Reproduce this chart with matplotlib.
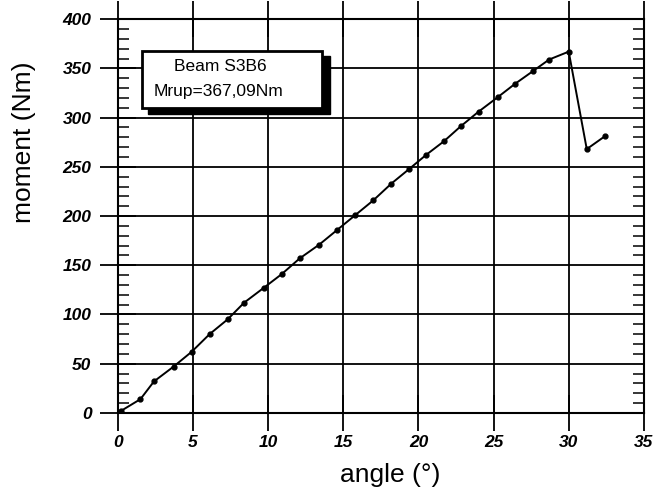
import numpy as np
import matplotlib.pyplot as plt
from matplotlib.patches import Rectangle
from matplotlib.ticker import MultipleLocator

# angle (deg) and moment (Nm)
angle = [0.2, 1.5, 2.4, 3.7, 4.9, 6.1, 7.3, 8.4, 9.7, 10.9, 12.1, 13.4, 14.6,
         15.8, 17.0, 18.2, 19.4, 20.5, 21.7, 22.8, 24.0, 25.3, 26.4, 27.6,
         28.7, 30.0, 31.2, 32.4]
moment = [2, 14, 32, 47, 62, 80, 95, 112, 127, 141, 157, 171, 186, 201, 216,
          233, 248, 262, 276, 291, 306, 321, 334, 347, 359, 367, 268, 281]

beam = "Beam S3B6"
mrup = "Mrup=367,09Nm"

plt.rcParams['font.family'] = ['Liberation Sans', 'DejaVu Sans']

fig = plt.figure(figsize=(6.55, 4.91), dpi=100)
ax = fig.add_axes([0.180, 0.159, 0.803, 0.802])

ax.plot(angle, moment, color='black', lw=1.4, zorder=3)
ax.plot(angle, moment, 'o', color='black', ms=3.5, zorder=4)

ax.set_xlim(0, 35)
ax.set_ylim(0, 400)
ax.xaxis.set_major_locator(MultipleLocator(5))
ax.yaxis.set_major_locator(MultipleLocator(50))
ax.yaxis.set_minor_locator(MultipleLocator(10))

ax.grid(True, which='major', color='black', lw=1.3)
ax.set_axisbelow(True)
for s in ax.spines.values():
    s.set_linewidth(1.5)

ax.tick_params(axis='both', which='major', direction='inout', length=26,
               width=1.3, top=True, right=False, labelsize=12.5)
ax.tick_params(axis='y', which='minor', direction='in', length=8, width=1.1,
               left=True, right=True)
ax.tick_params(axis='x', which='major', pad=3)
ax.tick_params(axis='y', which='major', pad=6)
for lab in ax.get_xticklabels() + ax.get_yticklabels():
    lab.set_style('italic')
    lab.set_fontweight('bold')

ax.set_xlabel("angle (°)", fontsize=19)
ax.xaxis.set_label_coords(0.517, -0.128)
ax.set_ylabel("moment (Nm)", fontsize=19)
ax.yaxis.set_label_coords(-0.155, 0.688)

# annotation box with shadow
ax.add_patch(Rectangle((2.0, 304), 12.1, 59, transform=ax.transData,
                       facecolor='black', edgecolor='black', zorder=5))
ax.add_patch(Rectangle((1.6, 310), 12.0, 58, transform=ax.transData,
                       facecolor='white', edgecolor='black', lw=2, zorder=6))
ax.text(6.8, 352, beam, fontsize=12.5, ha='center', va='center', zorder=7)
ax.text(6.7, 327, mrup, fontsize=12.5, ha='center', va='center', zorder=7)

fig.savefig("out.png", dpi=100)
